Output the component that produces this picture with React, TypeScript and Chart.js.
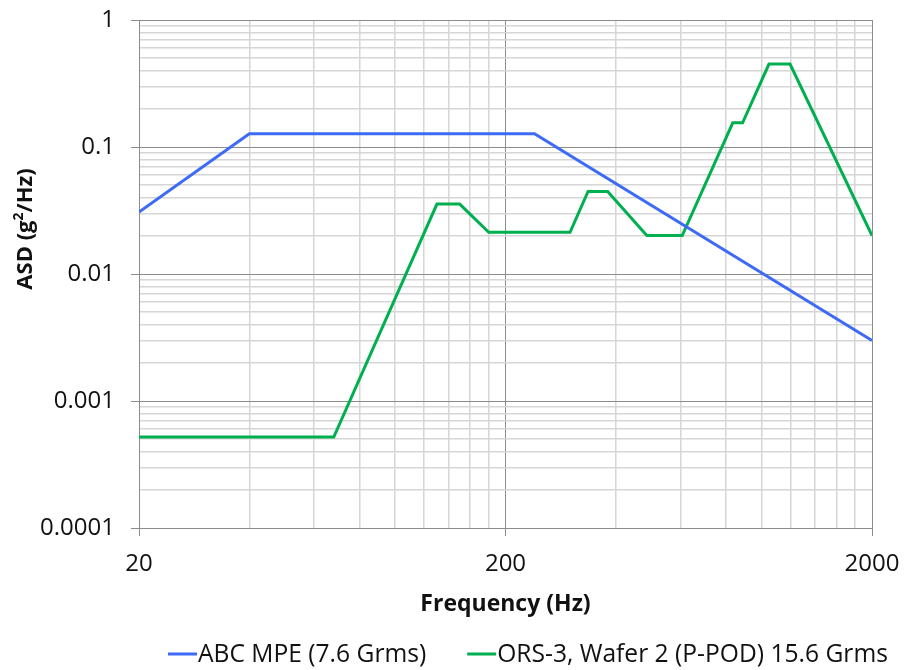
import React, { useEffect, useRef } from 'react';
import { Chart, registerables } from 'chart.js';

Chart.register(...registerables);

// ---- Data ----
const abcLabel = 'ABC MPE (7.6 Grms)';
const abcFreq = [20, 40, 240, 2000];
const abcAsd = [0.0307, 0.127, 0.127, 0.003];

const orsLabel = 'ORS-3, Wafer 2 (P-POD) 15.6 Grms';
const orsFreq = [20, 68, 130, 150, 180, 300, 336, 380, 486, 607, 834, 887, 1047, 1195, 2000];
const orsAsd = [0.00052, 0.00052, 0.0355, 0.0355, 0.0213, 0.0213, 0.0447, 0.0447, 0.0201, 0.0201, 0.155, 0.155, 0.45, 0.45, 0.0201];

// ---- Ticks ----
const xTicks = [20, 40, 60, 80, 100, 120, 140, 160, 180, 200, 400, 600, 800, 1000, 1200, 1400, 1600, 1800, 2000];
const xMajorTicks = [20, 200, 2000];
const xTickLabels = ['20', '200', '2000'];

const yMajorTicks = [0.0001, 0.001, 0.01, 0.1, 1];
const yTickLabels = ['0.0001', '0.001', '0.01', '0.1', '1'];
const yMinorMultipliers = [2, 3, 4, 5, 6, 7, 8, 9];

const xTitle = 'Frequency (Hz)';
const yTitleParts = ['ASD (g', '2', '/Hz)'];

const BLUE = '#3E6BF6';
const GREEN = '#00B050';
const MAJOR_GRID = '#8C8C8C';
const MINOR_GRID = '#D6D6D6';
const FONT = '"Open Sans", "DejaVu Sans", sans-serif';

const near = (a: number, b: number) => Math.abs(Math.log10(a) - Math.log10(b)) < 1e-6;

const yTickValues: { value: number; major: boolean }[] = [];
yMajorTicks.forEach((d, i) => {
  yTickValues.push({ value: d, major: true });
  if (i < yMajorTicks.length - 1) {
    yMinorMultipliers.forEach((m) => yTickValues.push({ value: d * m, major: false }));
  }
});
const xTickValues = xTicks.map((v) => ({ value: v, major: xMajorTicks.some((m) => near(m, v)) }));

const customText = {
  id: 'customText',
  afterDraw(chart: any) {
    const ctx = chart.ctx as CanvasRenderingContext2D;
    ctx.save();
    ctx.fillStyle = '#111';
    // Y axis title with superscript
    const mainFont = `bold 22px ${FONT}`;
    const supFont = `bold 14px ${FONT}`;
    const fonts = [mainFont, supFont, mainFont];
    const offs = [0, -9, 0];
    ctx.translate(24, 229);
    ctx.rotate(-Math.PI / 2);
    ctx.textBaseline = 'alphabetic';
    ctx.textAlign = 'left';
    let total = 0;
    const widths = yTitleParts.map((t, i) => {
      ctx.font = fonts[i];
      const w = ctx.measureText(t).width;
      total += w;
      return w;
    });
    let x = -total / 2;
    yTitleParts.forEach((t, i) => {
      ctx.font = fonts[i];
      ctx.fillText(t, x, 8 + offs[i]);
      x += widths[i];
    });
    ctx.restore();

    // Legend
    ctx.save();
    ctx.font = `24.6px ${FONT}`;
    ctx.textBaseline = 'alphabetic';
    ctx.textAlign = 'left';
    let lx = 168;
    const lineY = 654;
    const baseY = 662;
    chart.data.datasets.forEach((ds: any) => {
      ctx.fillStyle = ds.borderColor;
      ctx.fillRect(lx, lineY - 1.5, 29, 3);
      lx += 30;
      ctx.fillStyle = '#111';
      ctx.fillText(ds.label, lx, baseY);
      lx += ctx.measureText(ds.label).width + 41;
    });
    ctx.restore();
  },
};

export default function App() {
  const ref = useRef<HTMLCanvasElement | null>(null);
  useEffect(() => {
    if (!ref.current) return;
    const chart = new Chart(ref.current, {
      type: 'line',
      data: {
        datasets: [
          {
            label: abcLabel,
            data: abcFreq.map((f, i) => ({ x: f, y: abcAsd[i] })),
            borderColor: BLUE,
            backgroundColor: BLUE,
            borderWidth: 3,
            pointRadius: 0,
            tension: 0,
          },
          {
            label: orsLabel,
            data: orsFreq.map((f, i) => ({ x: f, y: orsAsd[i] })),
            borderColor: GREEN,
            backgroundColor: GREEN,
            borderWidth: 3,
            pointRadius: 0,
            tension: 0,
          },
        ],
      },
      options: {
        animation: false,
        responsive: true,
        maintainAspectRatio: false,
        layout: { padding: { left: 0, right: 35, top: 20, bottom: 42 } },
        plugins: {
          legend: { display: false },
          tooltip: { enabled: false },
        },
        font: { family: FONT },
        scales: {
          x: {
            type: 'logarithmic',
            min: 20,
            max: 2000,
            afterBuildTicks: (scale: any) => {
              scale.ticks = xTickValues.map((t) => ({ ...t }));
            },
            afterFit: (scale: any) => {
              scale.height = 100;
              scale.paddingLeft = 0;
              scale.paddingRight = 0;
            },
            ticks: {
              autoSkip: false,
              maxRotation: 0,
              minRotation: 0,
              padding: 14,
              color: '#111',
              font: { family: FONT, size: 24 },
              callback: (value: any) => {
                const idx = xMajorTicks.findIndex((m) => near(m, Number(value)));
                return idx >= 0 ? xTickLabels[idx] : '';
              },
            },
            grid: {
              color: (c: any) => (c.tick && c.tick.major ? MAJOR_GRID : MINOR_GRID),
              lineWidth: (c: any) => (c.tick && c.tick.major ? 1 : 1.5),
              tickColor: (c: any) => (c.tick && c.tick.major ? MAJOR_GRID : 'rgba(0,0,0,0)'),
              tickLength: 8,
              drawTicks: true,
            },
            border: { display: true, color: MAJOR_GRID, width: 1 },
            title: {
              display: true,
              text: xTitle,
              color: '#111',
              font: { family: FONT, size: 23, weight: 'bold' },
              padding: { top: 0, bottom: 10 },
            },
          },
          y: {
            type: 'logarithmic',
            min: 0.0001,
            max: 1,
            afterBuildTicks: (scale: any) => {
              scale.ticks = yTickValues.map((t) => ({ ...t }));
            },
            afterFit: (scale: any) => {
              scale.width = 139;
              scale.paddingTop = 0;
              scale.paddingBottom = 0;
            },
            ticks: {
              autoSkip: false,
              padding: 16,
              color: '#111',
              font: { family: FONT, size: 24 },
              callback: (value: any) => {
                const idx = yMajorTicks.findIndex((m) => near(m, Number(value)));
                return idx >= 0 ? yTickLabels[idx] : '';
              },
            },
            grid: {
              color: (c: any) => (c.tick && c.tick.major ? MAJOR_GRID : MINOR_GRID),
              lineWidth: (c: any) => (c.tick && c.tick.major ? 1 : 1.5),
              tickColor: (c: any) => (c.tick && c.tick.major ? MAJOR_GRID : 'rgba(0,0,0,0)'),
              tickLength: 8,
              drawTicks: true,
            },
            border: { display: true, color: MAJOR_GRID, width: 1 },
          },
        },
      },
      plugins: [customText],
    } as any);
    return () => chart.destroy();
  }, []);

  return (
    <div style={{ position: 'fixed', left: 0, top: 0, width: 907, height: 670 }}>
      <canvas ref={ref} style={{ display: 'block' }} />
    </div>
  );
}
